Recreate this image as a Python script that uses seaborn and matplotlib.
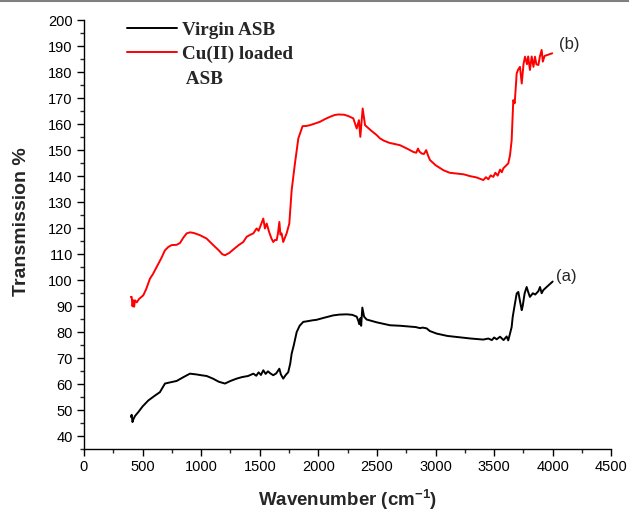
import numpy as np
import pandas as pd
import seaborn as sns
import matplotlib
matplotlib.use("Agg")
import matplotlib.pyplot as plt
from matplotlib.lines import Line2D
from matplotlib.ticker import MultipleLocator

# FTIR spectrum of virgin adsorbent (a)
wn_virgin = [400, 407, 414, 421, 435, 463, 500, 549, 600, 648, 691, 740, 791, 850,
             904, 960, 1000, 1047, 1100, 1150, 1203, 1250, 1303, 1350, 1400, 1445,
             1470, 1490, 1510, 1530, 1550, 1570, 1590, 1615, 1640, 1667, 1680, 1700,
             1720, 1743, 1760, 1772, 1790, 1815, 1840, 1871, 1900, 1950, 1985, 2050,
             2127, 2180, 2242, 2290, 2327, 2340, 2349, 2360, 2365, 2375, 2390, 2412,
             2500, 2611, 2700, 2830, 2867, 2890, 2924, 2950, 3009, 3100, 3180, 3300,
             3407, 3450, 3480, 3500, 3521, 3550, 3580, 3606, 3620, 3635, 3649, 3658,
             3677, 3692, 3706, 3720, 3735, 3743, 3760, 3777, 3790, 3805, 3830, 3850,
             3877, 3891, 3905, 3919, 3950, 3999]
tr_virgin = [47.5, 48.3, 45.5, 46.5, 47.8, 49.3, 51.5, 53.8, 55.5, 57.0, 60.3, 60.8,
             61.3, 62.8, 64.1, 63.8, 63.5, 63.2, 62.2, 61.0, 60.3, 61.3, 62.2, 62.8,
             63.2, 64.1, 63.3, 64.6, 63.6, 65.4, 64.0, 65.0, 64.2, 63.5, 64.2, 66.0,
             63.8, 62.2, 63.5, 64.7, 68.0, 71.8, 75.0, 80.1, 82.5, 84.0, 84.2, 84.6,
             84.8, 85.6, 86.5, 86.8, 86.9, 86.7, 86.0, 84.5, 83.1, 85.5, 82.5, 89.5,
             86.0, 84.9, 83.8, 82.7, 82.5, 82.0, 81.6, 81.8, 81.5, 80.5, 79.5, 78.6,
             78.2, 77.6, 77.2, 77.6, 77.0, 78.0, 77.3, 78.3, 77.0, 78.4, 76.9, 79.5,
             82.0, 85.9, 91.0, 94.9, 95.5, 92.0, 88.5, 90.0, 95.0, 97.4, 95.5, 93.6,
             95.0, 94.5, 95.8, 97.4, 95.0, 96.2, 97.5, 99.5]

# FTIR spectrum after Cu(II) loading (b)
wn_loaded = [400, 407, 414, 421, 428, 435, 450, 470, 506, 530, 563, 590, 620, 660,
             691, 720, 748, 790, 819, 850, 876, 905, 933, 960, 990, 1047, 1103, 1150,
             1180, 1203, 1240, 1274, 1320, 1359, 1388, 1420, 1445, 1473, 1490, 1510,
             1530, 1544, 1559, 1580, 1600, 1615, 1630, 1644, 1655, 1667, 1676, 1686,
             1700, 1706, 1720, 1729, 1752, 1772, 1800, 1829, 1865, 1900, 1928, 1970,
             2014, 2060, 2099, 2140, 2170, 2220, 2255, 2298, 2327, 2346, 2358, 2378,
             2398, 2450, 2497, 2526, 2560, 2605, 2696, 2760, 2810, 2835, 2850, 2861,
             2881, 2900, 2920, 2935, 2952, 3000, 3066, 3120, 3180, 3240, 3294, 3350,
             3407, 3430, 3450, 3470, 3492, 3510, 3530, 3550, 3565, 3578, 3600, 3620,
             3635, 3649, 3655, 3663, 3675, 3692, 3705, 3720, 3735, 3750, 3763, 3780,
             3790, 3805, 3820, 3835, 3848, 3860, 3877, 3890, 3905, 3915, 3930, 3950,
             3970, 3995]
tr_loaded = [93.6, 93.6, 90.0, 92.3, 89.8, 92.3, 91.5, 92.8, 94.2, 96.5, 100.6, 102.5,
             105.1, 108.5, 111.5, 112.8, 113.5, 113.6, 114.3, 116.5, 118.0, 118.4,
             118.2, 117.8, 117.3, 116.0, 113.5, 111.5, 110.0, 109.6, 110.5, 111.8,
             113.5, 114.7, 116.7, 117.5, 118.0, 119.9, 119.0, 121.3, 123.7, 119.9,
             121.8, 118.5, 116.0, 114.7, 115.5, 115.4, 118.0, 122.4, 117.5, 118.0,
             114.7, 115.4, 117.0, 118.0, 121.8, 134.6, 144.9, 154.5, 159.2, 159.3,
             159.6, 160.2, 160.9, 162.0, 162.8, 163.5, 163.7, 163.6, 163.1, 162.2,
             158.3, 161.5, 155.1, 166.0, 159.6, 157.5, 155.8, 154.5, 153.6, 152.8,
             151.9, 150.5, 149.3, 149.0, 150.6, 149.5, 148.7, 148.5, 150.0, 148.0,
             146.2, 144.2, 142.3, 141.3, 141.0, 140.7, 140.0, 139.5, 138.5, 139.6,
             138.8, 140.3, 139.7, 141.3, 140.2, 142.5, 141.5, 143.0, 144.0, 144.9,
             148.0, 153.8, 160.0, 169.2, 168.0, 179.5, 181.0, 182.0, 175.6, 183.0,
             185.9, 183.0, 186.0, 180.8, 186.0, 182.0, 185.9, 183.0, 182.7, 186.0,
             188.5, 184.0, 186.2, 186.5, 186.8, 187.2]

series_names = ["Virgin ASB", "Cu(II) loaded ASB"]
legend_lines = ["Virgin ASB", "Cu(II) loaded", " ASB"]
series_colors = ["black", "red"]
curve_tags = ["(a)", "(b)"]

x_ticks = list(range(0, 4501, 500))
y_ticks = list(range(40, 201, 10))

df = pd.concat([
    pd.DataFrame({"Wavenumber": wn_virgin, "Transmission": tr_virgin, "Sample": series_names[0]}),
    pd.DataFrame({"Wavenumber": wn_loaded, "Transmission": tr_loaded, "Sample": series_names[1]}),
], ignore_index=True)

sns.set_style("ticks")
plt.rcParams["font.family"] = ["Liberation Sans", "DejaVu Sans"]
plt.rcParams["mathtext.default"] = "regular"

fig = plt.figure(figsize=(6.29, 5.13), dpi=100)
ax = fig.add_axes([0.1335, 0.124, 0.8385, 0.837])

sns.lineplot(data=df, x="Wavenumber", y="Transmission", hue="Sample",
             palette=dict(zip(series_names, series_colors)), estimator=None,
             sort=False, lw=1.4, ax=ax, legend=False)

ax.set_xlim(0, 4500)
ax.set_ylim(35, 200)
ax.set_xticks(x_ticks)
ax.set_yticks(y_ticks)
ax.xaxis.set_minor_locator(MultipleLocator(250))
ax.yaxis.set_minor_locator(MultipleLocator(5))
ax.tick_params(which="major", direction="out", length=5, width=1, labelsize=10.5,
               colors="black", pad=3)
ax.tick_params(which="minor", direction="out", length=3, width=1)
for s in ["top", "right"]:
    ax.spines[s].set_visible(False)
for s in ["left", "bottom"]:
    ax.spines[s].set_linewidth(1)
    ax.spines[s].set_color("black")

ax.set_xlabel("Wavenumber (cm$^{-1}$)", fontsize=13.5, fontweight="bold")
ax.set_ylabel("Transmission %", fontsize=14, fontweight="bold")
ax.xaxis.set_label_coords(0.5, -0.09)
ax.yaxis.set_label_coords(-0.102, 0.53)

# curve tags
ax.text(4027, 101.3, curve_tags[0], fontsize=12, va="center", ha="left")
ax.text(4050, 190.5, curve_tags[1], fontsize=12, va="center", ha="left")

# legend: the second sample name wraps onto a third row without a line
handles = [Line2D([], [], color=series_colors[0], lw=1.4),
           Line2D([], [], color=series_colors[1], lw=1.4),
           Line2D([], [], color="none", lw=1.4)]
leg = ax.legend(handles, legend_lines, loc="upper left", bbox_to_anchor=(0.064, 1.019),
                frameon=False, borderpad=0, handlelength=2.6, handletextpad=0.26,
                labelspacing=0.36,
                prop={"family": "Liberation Serif", "weight": "bold", "size": 13.8})

fig.add_artist(Line2D([0, 1], [0.998, 0.998], transform=fig.transFigure,
                      color="#808080", lw=1.5))

fig.savefig("out.png", dpi=100)
